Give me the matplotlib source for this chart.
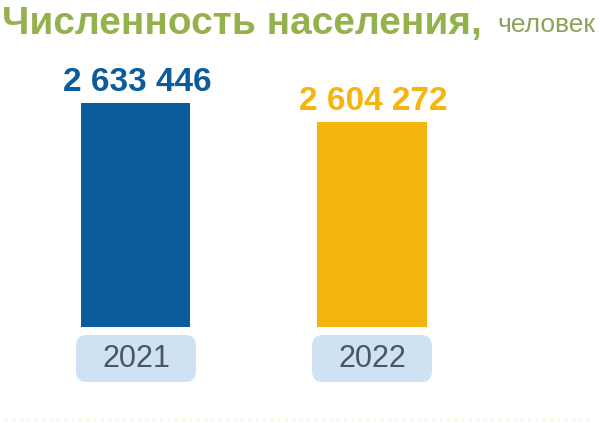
import matplotlib.pyplot as plt
from matplotlib.patches import FancyBboxPatch
from matplotlib.lines import Line2D

# data
years = ['2021', '2022']
population = [2633446, 2604272]
value_labels = ['2 633 446', '2 604 272']
bar_colors = ['#0a5c9c', '#f5b50f']

W, H = 600, 423
fig = plt.figure(figsize=(6, 4.23), dpi=100)
fig.patch.set_facecolor('white')

# axes placed so the bars sit where they do in the original
ax_bottom_px, ax_top_px = 327, 60
ax = fig.add_axes([0, (H - ax_bottom_px) / H, 1, (ax_bottom_px - ax_top_px) / H])
ax.axis('off')

x = list(range(len(years)))
ax.bar(x, population, width=0.462, color=bar_colors)
ax.set_xlim(-0.576, 1.966)
ax.set_ylim(2289500, 2699478)

# value labels above bars
for xi, v, lab, c in zip(x, population, value_labels, bar_colors):
    ax.annotate(lab, (xi, v), xytext=(1, 9), textcoords='offset points',
                ha='center', va='baseline', color=c, fontsize=24, fontweight='bold',
                family='Liberation Sans')

# rounded year boxes under the bars
trans = ax.get_xaxis_transform()
ax_h_px = ax_bottom_px - ax_top_px
for xi, yr in zip(x, years):
    box = FancyBboxPatch((xi - 0.254, -55 / ax_h_px), 0.508, 47 / ax_h_px,
                         boxstyle='round,pad=0,rounding_size=0.045',
                         mutation_aspect=236 / ax_h_px,
                         transform=trans, clip_on=False,
                         facecolor='#cfe2f4', edgecolor='none')
    ax.add_patch(box)
    ax.text(xi, -31.5 / ax_h_px, yr, transform=trans, ha='center', va='center',
            fontsize=22, color='#4a5566', family='Liberation Sans')

# title
fig.text(2 / W, (H - 34) / H, 'Численность населения,', ha='left', va='baseline',
         fontsize=28, fontweight='bold', color='#93b24c', family='Liberation Sans')
fig.text(497 / W, (H - 32) / H, 'человек', ha='left', va='baseline',
         fontsize=19, color='#8aa35a', family='Liberation Sans')

# faint line at the bottom
fig.add_artist(Line2D([5 / W, 595 / W], [4 / H, 4 / H], transform=fig.transFigure,
                      color='#fbf8e0', lw=2, ls=':'))

fig.savefig('out.png', dpi=100)
